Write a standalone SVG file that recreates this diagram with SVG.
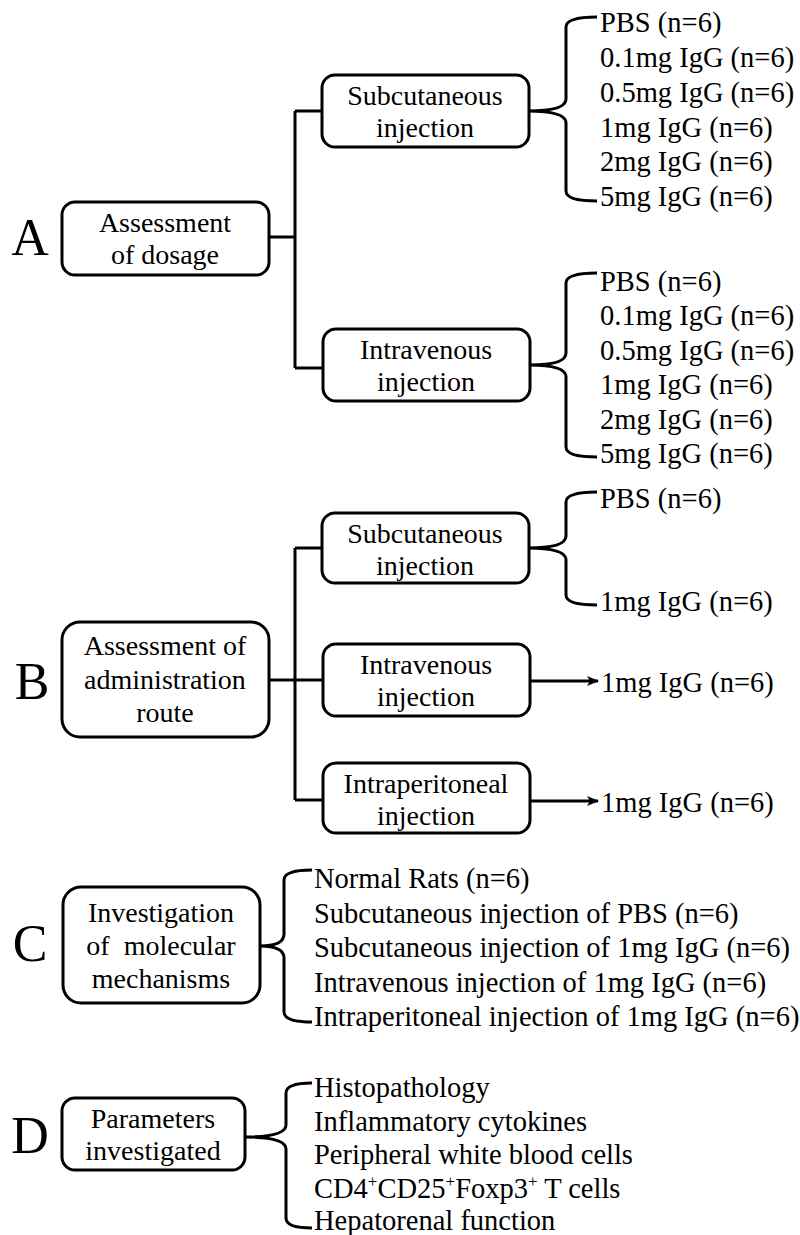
<svg xmlns="http://www.w3.org/2000/svg" width="800" height="1235" viewBox="0 0 800 1235">
<defs>
<style>
text{font-family:"Liberation Serif","Times New Roman",serif;fill:#000}
.box{fill:#fff;stroke:#000;stroke-width:3}
.bt{font-size:28px;text-anchor:middle}
.lt{font-size:28.5px}
.big{font-size:52px;text-anchor:middle}
.ln{fill:none;stroke:#000;stroke-width:3}
</style>
<marker id="arr" markerWidth="12" markerHeight="10" refX="11" refY="5" orient="auto" markerUnits="userSpaceOnUse">
<path d="M0,0 L12,5 L0,10 L3,5 Z" fill="#000"/>
</marker>
</defs>
<rect width="800" height="1235" fill="#fff"/>

<g id="connectors">
<path class="ln" d="M269,237 H295 M295,111 V368 M295,111 H322 M295,368 H323"/>
<path class="ln" d="M566,17 M597,17 Q566,17 566,27 V99 Q566,111 528,111 Q566,111 566,123 V191 Q566,201 597,201"/>
<path class="ln" d="M597,273 Q566,273 566,283 V353 Q566,365 530,365 Q566,365 566,377 V447 Q566,457 597,457"/>
<path class="ln" d="M269,680 H323 M295,548 V800 M295,548 H322 M295,800 H323"/>
<path class="ln" d="M597,492 Q566,492 566,502 V536 Q566,548 528,548 Q566,548 566,560 V595 Q566,605 597,605"/>
<line class="ln" x1="531" y1="681" x2="598" y2="681" marker-end="url(#arr)"/>
<line class="ln" x1="531" y1="801" x2="598" y2="801" marker-end="url(#arr)"/>
<path class="ln" d="M312,870 Q284,870 284,880 V934 Q284,946 260,946 Q284,946 284,958 V1012 Q284,1022 312,1022"/>
<path class="ln" d="M312,1083 Q286,1083 286,1093 V1125 Q286,1137 245,1137 Q286,1137 286,1149 V1218 Q286,1228 312,1228"/>
</g>

<g id="labelA"><text class="big" x="30" y="255">A</text></g>
<g id="nodeA">
<rect class="box" x="62" y="202" width="207" height="73" rx="13"/>
<text class="bt" x="165" y="232">Assessment</text>
<text class="bt" x="165" y="264">of dosage</text>
</g>
<g id="nodeA_sc">
<rect class="box" x="322" y="75" width="207" height="72" rx="13"/>
<text class="bt" x="425" y="105">Subcutaneous</text>
<text class="bt" x="425" y="137">injection</text>
</g>
<g id="listA_sc">
<text class="lt" x="600" y="32">PBS (n=6)</text>
<text class="lt" x="600" y="67">0.1mg IgG (n=6)</text>
<text class="lt" x="600" y="102">0.5mg IgG (n=6)</text>
<text class="lt" x="600" y="137">1mg IgG (n=6)</text>
<text class="lt" x="600" y="171">2mg IgG (n=6)</text>
<text class="lt" x="600" y="206">5mg IgG (n=6)</text>
</g>
<g id="nodeA_iv">
<rect class="box" x="323" y="329" width="207" height="72" rx="13"/>
<text class="bt" x="426" y="359">Intravenous</text>
<text class="bt" x="426" y="391">injection</text>
</g>
<g id="listA_iv">
<text class="lt" x="600" y="291">PBS (n=6)</text>
<text class="lt" x="600" y="325">0.1mg IgG (n=6)</text>
<text class="lt" x="600" y="360">0.5mg IgG (n=6)</text>
<text class="lt" x="600" y="394">1mg IgG (n=6)</text>
<text class="lt" x="600" y="429">2mg IgG (n=6)</text>
<text class="lt" x="600" y="463">5mg IgG (n=6)</text>
</g>

<g id="labelB"><text class="big" x="32" y="699">B</text></g>
<g id="nodeB">
<rect class="box" x="62" y="622" width="207" height="115" rx="18"/>
<text class="bt" x="165" y="655">Assessment of</text>
<text class="bt" x="165" y="689">administration</text>
<text class="bt" x="165" y="722">route</text>
</g>
<g id="nodeB_sc">
<rect class="box" x="322" y="513" width="207" height="70" rx="13"/>
<text class="bt" x="425" y="543">Subcutaneous</text>
<text class="bt" x="425" y="575">injection</text>
</g>
<g id="listB_sc">
<text class="lt" x="600" y="508">PBS (n=6)</text>
<text class="lt" x="600" y="611">1mg IgG (n=6)</text>
</g>
<g id="nodeB_iv">
<rect class="box" x="323" y="644" width="207" height="72" rx="13"/>
<text class="bt" x="426" y="674">Intravenous</text>
<text class="bt" x="426" y="706">injection</text>
</g>
<g id="listB_iv"><text class="lt" x="601" y="692">1mg IgG (n=6)</text></g>
<g id="nodeB_ip">
<rect class="box" x="323" y="763" width="207" height="70" rx="13"/>
<text class="bt" x="426" y="793">Intraperitoneal</text>
<text class="bt" x="426" y="825">injection</text>
</g>
<g id="listB_ip"><text class="lt" x="601" y="812">1mg IgG (n=6)</text></g>

<g id="labelC"><text class="big" x="30" y="961">C</text></g>
<g id="nodeC">
<rect class="box" x="63" y="887" width="197" height="116" rx="18"/>
<text class="bt" x="161" y="922">Investigation</text>
<text class="bt" x="161" y="955" xml:space="preserve">of  molecular</text>
<text class="bt" x="161" y="988">mechanisms</text>
</g>
<g id="listC">
<text class="lt" x="314" y="888">Normal Rats (n=6)</text>
<text class="lt" x="314" y="923">Subcutaneous injection of PBS (n=6)</text>
<text class="lt" x="314" y="957">Subcutaneous injection of 1mg IgG (n=6)</text>
<text class="lt" x="314" y="992">Intravenous injection of 1mg IgG (n=6)</text>
<text class="lt" x="314" y="1026">Intraperitoneal injection of 1mg IgG (n=6)</text>
</g>

<g id="labelD"><text class="big" x="30" y="1153">D</text></g>
<g id="nodeD">
<rect class="box" x="62" y="1098" width="183" height="72" rx="13"/>
<text class="bt" x="153" y="1128">Parameters</text>
<text class="bt" x="153" y="1160">investigated</text>
</g>
<g id="listD">
<text class="lt" x="314" y="1097">Histopathology</text>
<text class="lt" x="314" y="1131">Inflammatory cytokines</text>
<text class="lt" x="314" y="1164">Peripheral white blood cells</text>
<text class="lt" x="314" y="1198">CD4<tspan font-size="17" dy="-11">+</tspan><tspan dy="11">CD25</tspan><tspan font-size="17" dy="-11">+</tspan><tspan dy="11">Foxp3</tspan><tspan font-size="17" dy="-11">+</tspan><tspan dy="11"> T cells</tspan></text>
<text class="lt" x="314" y="1230">Hepatorenal function</text>
</g>
</svg>
